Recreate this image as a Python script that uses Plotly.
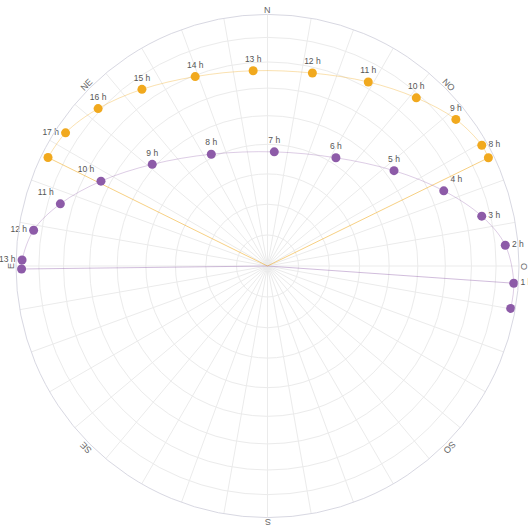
import math
import plotly.graph_objects as go

# Sun path (azimuth measured counter-clockwise from N, elevation in degrees)
summer_azimuth = [296.1, 299.4, 307.9, 318.5, 331.3, 346.9, 4.2, 20.9, 35.4, 47.1, 56.6, 63.7]
summer_elevation = [2.5, 2.5, 5.7, 11.7, 17.7, 22.3, 23.2, 20.5, 14.9, 8.9, 4.3, 3.0]
summer_labels = ["", "8 h", "9 h", "10 h", "11 h", "12 h", "13 h", "14 h", "15 h", "16 h", "17 h", ""]
summer_textpos = ["middle right", "middle right", "top center", "top center", "top center",
                  "top center", "top center", "top center", "top center", "top center",
                  "middle left", "middle left"]

winter_azimuth = [260.1, 266.0, 275.0, 283.1, 293.1, 307.0, 327.7, 356.6, 26.7, 48.6, 63.0, 73.3, 81.3, 88.6, 90.7]
winter_elevation = [2.1, 2.1, 5.7, 13.6, 24.8, 37.1, 47.8, 52.5, 48.8, 38.8, 26.6, 15.1, 6.6, 2.7, 2.5]
winter_labels = ["", "1 h", "2 h", "3 h", "4 h", "5 h", "6 h", "7 h", "8 h", "9 h", "10 h",
                 "11 h", "12 h", "13 h", ""]
winter_textpos = ["middle right", "middle right", "middle right", "middle right", "top right",
                  "top center", "top center", "top center", "top center", "top center",
                  "top left", "top left", "middle left", "middle left", "middle left"]

compass_names = ["N", "NE", "E", "SE", "S", "SO", "O", "NO"]
compass_angles = [0, 45, 90, 135, 180, 225, 270, 315]

ORANGE = "#F1A91E"
PURPLE = "#8D5BA8"
W, H = 528, 527
CX, CY, R = 267.5, 266.0, 251.5


def proj(el):
    """Equal-area projection of elevation onto the unit disc."""
    return math.sin(math.radians((90 - el) / 2)) / math.sin(math.radians(45))


summer_r = [proj(e) for e in summer_elevation]
winter_r = [proj(e) for e in winter_elevation]

fig = go.Figure()

# rays from the centre to the end points of each path
fig.add_trace(go.Scatterpolar(
    r=[summer_r[0], 0, summer_r[-1]],
    theta=[summer_azimuth[0], 0, summer_azimuth[-1]],
    mode="lines", line=dict(color="rgba(241,169,30,0.55)", width=1),
    hoverinfo="skip"))
fig.add_trace(go.Scatterpolar(
    r=[winter_r[1], 0, winter_r[-1]],
    theta=[winter_azimuth[1], 0, winter_azimuth[-1]],
    mode="lines", line=dict(color="rgba(141,91,168,0.4)", width=1),
    hoverinfo="skip"))

# sun paths
for rr, th, lab, pos, col, lcol in [
    (summer_r, summer_azimuth, summer_labels, summer_textpos, ORANGE, "rgba(241,169,30,0.35)"),
    (winter_r, winter_azimuth, winter_labels, winter_textpos, PURPLE, "rgba(141,91,168,0.3)"),
]:
    fig.add_trace(go.Scatterpolar(
        r=rr, theta=th, text=lab, textposition=pos,
        mode="lines+markers+text",
        line=dict(color=lcol, width=1, shape="spline"),
        marker=dict(color=col, size=9),
        textfont=dict(family="Arial", size=8.5, color="#555555"),
        cliponaxis=False))

ring_vals = [proj(90 - z) for z in range(10, 90, 10)]

fig.update_layout(
    width=W, height=H,
    margin=dict(l=0, r=0, t=0, b=0),
    paper_bgcolor="white",
    showlegend=False,
    polar=dict(
        domain=dict(x=[(CX - R) / W, (CX + R) / W],
                    y=[(H - CY - R) / H, (H - CY + R) / H]),
        bgcolor="white",
        radialaxis=dict(range=[0, 1], tickvals=ring_vals, showticklabels=False,
                        ticks="", showline=False, gridcolor="#ebebeb", gridwidth=1),
        angularaxis=dict(direction="counterclockwise", rotation=90,
                         tickvals=list(range(0, 360, 10)), showticklabels=False,
                         ticks="", gridcolor="#ebebeb", gridwidth=1,
                         showline=True, linecolor="#d8d8e2", linewidth=1),
    ),
)

# compass labels, written tangentially just outside the rim
for name, a in zip(compass_names, compass_angles):
    phi = math.radians(90 + a)
    px = CX + (R + 5) * math.cos(phi)
    py = CY - (R + 5) * math.sin(phi)
    ang = -a
    if ang <= -180:
        ang += 360
    fig.add_annotation(x=px / W, y=(H - py) / H, xref="paper", yref="paper",
                       text=name, showarrow=False, textangle=ang,
                       xanchor="center", yanchor="middle",
                       font=dict(family="Arial", size=9, color="#666666"))

fig.write_html("out.html")
